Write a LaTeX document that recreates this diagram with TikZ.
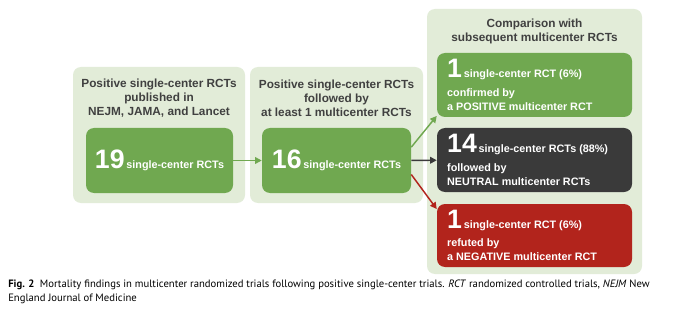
\documentclass[tikz,border=0pt]{standalone}
\usepackage{fontspec}
\setmainfont{Liberation Sans}
\newfontfamily\capfont{PT Sans}
\usetikzlibrary{arrows.meta}
\definecolor{panelbg}{RGB}{226,236,216}
\definecolor{boxgreen}{RGB}{112,168,80}
\definecolor{boxdark}{RGB}{58,58,58}
\definecolor{boxred}{RGB}{178,36,28}
\definecolor{headgray}{RGB}{64,64,64}
\tikzset{
  panel/.style={fill=panelbg,rounded corners=6pt,inner sep=0pt},
  numbox/.style={rounded corners=6pt,inner sep=0pt,text=white,
    font=\fontsize{8.1}{10.5}\selectfont\bfseries},
  outbox/.style={numbox,minimum width=146.25pt,minimum height=48pt,align=flush left,
    text width=131pt,inner xsep=7.5pt},
  headtxt/.style={align=center,text=headgray,font=\fontsize{8.85}{10.5}\selectfont\bfseries},
  flow/.style={line width=1.1pt,-{Triangle[length=5pt,width=5pt]}}
}
\newcommand{\bignum}[1]{{\fontsize{20}{20}\selectfont #1}}
\begin{document}
\begin{tikzpicture}[x=0.75pt,y=-0.75pt]
\useasboundingbox[fill=white] (0,0) rectangle (680,313);

\node[panel,minimum width=129pt,minimum height=102pt] (pone) at (159,135) {};
\node[panel,minimum width=129.75pt,minimum height=102pt] (ptwo) at (336.5,135) {};
\node[panel,minimum width=161.25pt,minimum height=198.75pt] (pthree) at (534.5,141.5) {};

\node[headtxt] (hone) at (159,98) {Positive single-center RCTs\\published in\\NEJM, JAMA, and Lancet};
\node[headtxt] (htwo) at (336.5,98) {Positive single-center RCTs\\followed by\\at least 1 multicenter RCTs};
\node[headtxt] (hthree) at (534.5,31) {Comparison with\\subsequent multicenter RCTs};

\node[numbox,fill=boxgreen,minimum width=110.25pt,minimum height=48.75pt] (single) at (159.5,160.5)
  {\bignum{19}\,single-center RCTs};
\node[numbox,fill=boxgreen,minimum width=111.75pt,minimum height=48.75pt] (follow) at (336.5,160.5)
  {\bignum{16}\,single-center RCTs};

\node[outbox,fill=boxgreen] (pos) at (534.5,85)
  {\bignum{1}\,single-center RCT (6\%)\\[3.5pt]confirmed by\\a POSITIVE multicenter RCT};
\node[outbox,fill=boxdark] (neu) at (534.5,160)
  {\bignum{14}\,single-center RCTs (88\%)\\[3.5pt]followed by\\NEUTRAL multicenter RCTs};
\node[outbox,fill=boxred,minimum height=47.25pt] (neg) at (534.5,235.5)
  {\bignum{1}\,single-center RCT (6\%)\\[3.5pt]refuted by\\a NEGATIVE multicenter RCT};

\draw[flow,boxgreen] (single) -- (follow);
\draw[flow,boxgreen] ([yshift=10pt]follow.east) -- ([yshift=1pt]pos.south west);
\draw[flow,boxdark] (follow) -- (neu);
\draw[flow,boxred] ([yshift=-10.5pt]follow.east) -- ([yshift=-4pt]neg.north west);

\node[anchor=north west,inner sep=0pt,text width=498pt,align=flush left,
  font=\capfont\fontsize{8}{10.5}\selectfont] (caption) at (8,280)
  {\hyphenpenalty=10000 \textbf{Fig. 2}\enspace Mortality findings in multicenter randomized trials following positive single-center trials. \textit{RCT} randomized controlled trials, \textit{NEJM} New England Journal of Medicine};
\end{tikzpicture}
\end{document}
